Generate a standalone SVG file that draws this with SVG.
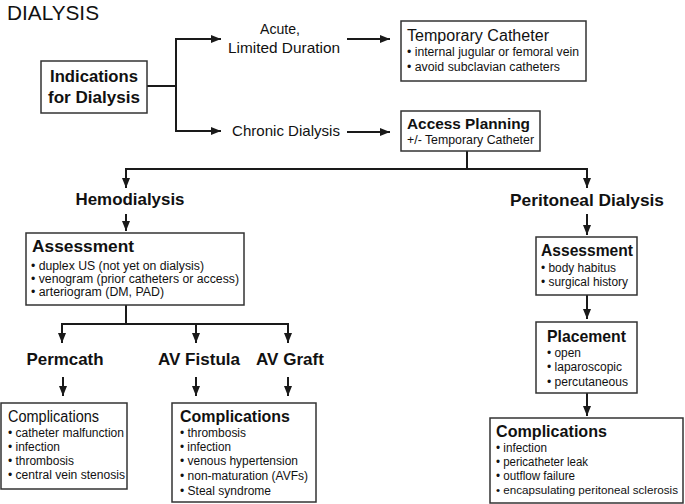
<svg xmlns="http://www.w3.org/2000/svg" width="685" height="504" viewBox="0 0 685 504">
<defs>
<marker id="ah" viewBox="0 0 10 8" refX="10" refY="4" markerWidth="5" markerHeight="4" markerUnits="strokeWidth" orient="auto">
<path d="M0,0 L10,4 L0,8 Z" fill="#1a1a1a"/>
</marker>
<style>
text{font-family:"Liberation Sans",Arial,sans-serif;fill:#111}
.box{fill:#fff;stroke:#333;stroke-width:1.5}
.ln{fill:none;stroke:#1a1a1a;stroke-width:2}
.ar{fill:none;stroke:#1a1a1a;stroke-width:2;marker-end:url(#ah)}
.h{font-weight:bold;font-size:17px}
.hm{font-weight:bold;font-size:15.5px}
.r{font-size:16px}
.m{font-size:15px}
.b{font-size:12.5px}
.c{text-anchor:middle}
</style>
</defs>
<text x="7" y="20" style="font-size:19.5px" textLength="92" lengthAdjust="spacingAndGlyphs">DIALYSIS</text>

<g id="connectors">
<path class="ln" d="M147,86 H176 M176,39 V131"/>
<path class="ar" d="M175,39 H221"/>
<path class="ar" d="M175,131 H221"/>
<path class="ar" d="M347,39 H390"/>
<path class="ar" d="M347,132 H390"/>
<path class="ln" d="M467,151 V169 M125,169 H588"/>
<path class="ar" d="M126,168 V188"/>
<path class="ar" d="M587,168 V188"/>
<path class="ar" d="M126,214 V231"/>
<path class="ar" d="M587,214 V235"/>
<path class="ln" d="M126,305 V324 M61,324 H289"/>
<path class="ar" d="M62,323 V343"/>
<path class="ar" d="M196,323 V343"/>
<path class="ar" d="M288,323 V343"/>
<path class="ar" d="M63,377 V396"/>
<path class="ar" d="M196,377 V396"/>
<path class="ar" d="M288,377 V396"/>
<path class="ar" d="M587,295 V319"/>
<path class="ar" d="M587,393 V416"/>
</g>

<g id="indications">
<rect class="box" x="41" y="61" width="106" height="52"/>
<text class="h c" x="94" y="82" textLength="88" lengthAdjust="spacingAndGlyphs">Indications</text>
<text class="h c" x="94" y="103" textLength="92" lengthAdjust="spacingAndGlyphs">for Dialysis</text>
</g>

<g id="acute">
<text class="m c" x="280" y="34" textLength="40" lengthAdjust="spacingAndGlyphs">Acute,</text>
<text class="m c" x="284" y="53" textLength="112" lengthAdjust="spacingAndGlyphs">Limited Duration</text>
</g>

<g id="chronic">
<text class="m c" x="286" y="136" textLength="108" lengthAdjust="spacingAndGlyphs">Chronic Dialysis</text>
</g>

<g id="temp-catheter">
<rect class="box" x="401" y="21" width="185" height="60"/>
<text class="r" x="407" y="41" textLength="142" lengthAdjust="spacingAndGlyphs">Temporary Catheter</text>
<text class="b" x="407" y="56" textLength="172" lengthAdjust="spacingAndGlyphs">• internal jugular or femoral vein</text>
<text class="b" x="407" y="71" textLength="153" lengthAdjust="spacingAndGlyphs">• avoid subclavian catheters</text>
</g>

<g id="access-planning">
<rect class="box" x="401" y="111" width="139" height="40"/>
<text class="hm" x="407" y="129" textLength="123" lengthAdjust="spacingAndGlyphs">Access Planning</text>
<text x="407" y="144" style="font-size:13px" textLength="127" lengthAdjust="spacingAndGlyphs">+/- Temporary Catheter</text>
</g>

<g id="hemodialysis">
<text class="h c" x="130" y="205" textLength="109" lengthAdjust="spacingAndGlyphs">Hemodialysis</text>
</g>

<g id="peritoneal">
<text class="h c" x="587" y="206" textLength="154" lengthAdjust="spacingAndGlyphs">Peritoneal Dialysis</text>
</g>

<g id="hd-assessment">
<rect class="box" x="26" y="233" width="218" height="72"/>
<text class="h" x="32" y="252" textLength="102" lengthAdjust="spacingAndGlyphs">Assessment</text>
<text class="b" x="31" y="270" textLength="173" lengthAdjust="spacingAndGlyphs">• duplex US (not yet on dialysis)</text>
<text class="b" x="31" y="283" textLength="208" lengthAdjust="spacingAndGlyphs">• venogram (prior catheters or access)</text>
<text class="b" x="31" y="296" textLength="133" lengthAdjust="spacingAndGlyphs">• arteriogram (DM, PAD)</text>
</g>

<g id="permcath">
<text class="h c" x="65" y="365" textLength="77" lengthAdjust="spacingAndGlyphs">Permcath</text>
</g>
<g id="av-fistula">
<text class="h c" x="199" y="365" textLength="82" lengthAdjust="spacingAndGlyphs">AV Fistula</text>
</g>
<g id="av-graft">
<text class="h c" x="290" y="365" textLength="68" lengthAdjust="spacingAndGlyphs">AV Graft</text>
</g>

<g id="permcath-comp">
<rect class="box" x="1" y="403" width="126" height="86"/>
<text class="r" x="8" y="422" textLength="91" lengthAdjust="spacingAndGlyphs">Complications</text>
<text class="b" x="8" y="437" textLength="116" lengthAdjust="spacingAndGlyphs">• catheter malfunction</text>
<text class="b" x="8" y="451" textLength="52" lengthAdjust="spacingAndGlyphs">• infection</text>
<text class="b" x="8" y="465" textLength="66" lengthAdjust="spacingAndGlyphs">• thrombosis</text>
<text class="b" x="8" y="479" textLength="117" lengthAdjust="spacingAndGlyphs">• central vein stenosis</text>
</g>

<g id="av-comp">
<rect class="box" x="172" y="403" width="144" height="99"/>
<text class="h" x="180" y="422" textLength="110" lengthAdjust="spacingAndGlyphs">Complications</text>
<text class="b" x="180" y="437" textLength="66" lengthAdjust="spacingAndGlyphs">• thrombosis</text>
<text class="b" x="180" y="451" textLength="51" lengthAdjust="spacingAndGlyphs">• infection</text>
<text class="b" x="180" y="465" textLength="118" lengthAdjust="spacingAndGlyphs">• venous hypertension</text>
<text class="b" x="180" y="480" textLength="128" lengthAdjust="spacingAndGlyphs">• non-maturation (AVFs)</text>
<text class="b" x="180" y="495" textLength="91" lengthAdjust="spacingAndGlyphs">• Steal syndrome</text>
</g>

<g id="pd-assessment">
<rect class="box" x="536" y="237" width="101" height="58"/>
<text class="h" x="541" y="256" textLength="92" lengthAdjust="spacingAndGlyphs">Assessment</text>
<text class="b" x="541" y="272" textLength="75" lengthAdjust="spacingAndGlyphs">• body habitus</text>
<text class="b" x="541" y="286" textLength="87" lengthAdjust="spacingAndGlyphs">• surgical history</text>
</g>

<g id="placement">
<rect class="box" x="536" y="322" width="101" height="71"/>
<text class="h" x="547" y="342" textLength="79" lengthAdjust="spacingAndGlyphs">Placement</text>
<text class="b" x="547" y="357" textLength="34" lengthAdjust="spacingAndGlyphs">• open</text>
<text class="b" x="547" y="371" textLength="75" lengthAdjust="spacingAndGlyphs">• laparoscopic</text>
<text class="b" x="547" y="386" textLength="81" lengthAdjust="spacingAndGlyphs">• percutaneous</text>
</g>

<g id="pd-comp">
<rect class="box" x="490" y="418" width="193" height="85"/>
<text class="h" x="496" y="437" textLength="111" lengthAdjust="spacingAndGlyphs">Complications</text>
<text class="b" x="496" y="452" textLength="51" lengthAdjust="spacingAndGlyphs">• infection</text>
<text class="b" x="496" y="466" textLength="92" lengthAdjust="spacingAndGlyphs">• pericatheter leak</text>
<text class="b" x="496" y="480" textLength="79" lengthAdjust="spacingAndGlyphs">• outflow failure</text>
<text x="496" y="494" style="font-size:11px" textLength="182" lengthAdjust="spacingAndGlyphs">• encapsulating peritoneal sclerosis</text>
</g>
</svg>
